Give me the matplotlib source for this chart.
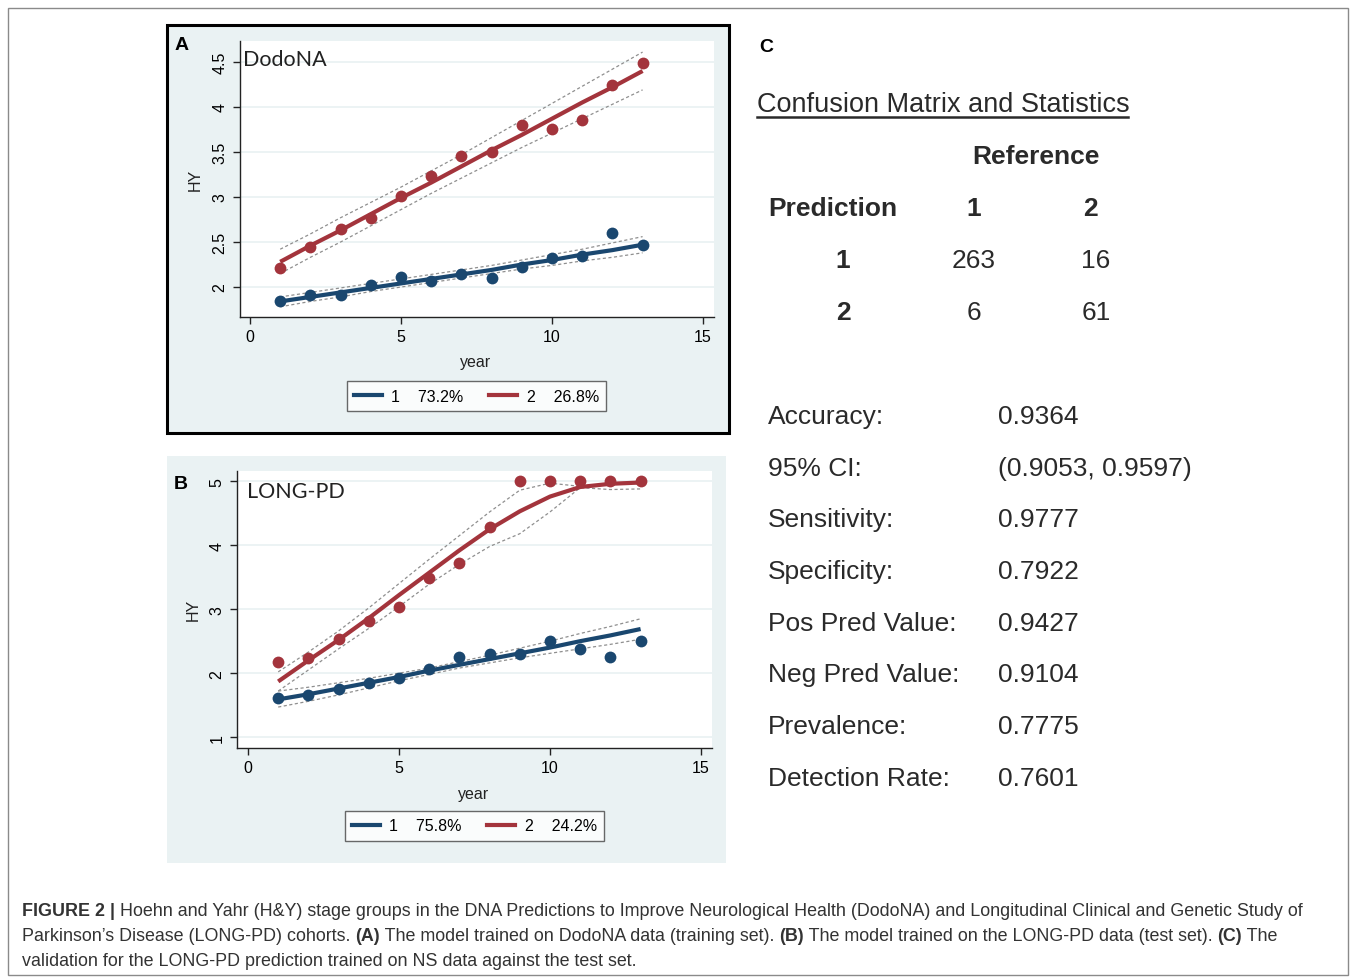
import matplotlib
matplotlib.use('Agg')
import matplotlib.pyplot as plt
from matplotlib.patches import Rectangle
from matplotlib.lines import Line2D
from matplotlib.ticker import FormatStrFormatter

W, H = 1357, 979
years = list(range(1, 14))

# ---------------- Panel A (DodoNA) ----------------
a_g1_obs = [1.85, 1.91, 1.91, 2.02, 2.11, 2.07, 2.15, 2.10, 2.22, 2.32, 2.35, 2.60, 2.47]
a_g1_fit = [1.84, 1.89, 1.94, 1.99, 2.04, 2.09, 2.14, 2.19, 2.25, 2.30, 2.36, 2.41, 2.47]
a_g1_hi = [1.89, 1.94, 1.99, 2.04, 2.09, 2.14, 2.19, 2.24, 2.30, 2.36, 2.42, 2.49, 2.56]
a_g1_lo = [1.78, 1.84, 1.89, 1.95, 2.00, 2.05, 2.10, 2.15, 2.20, 2.24, 2.29, 2.33, 2.38]
a_g2_obs = [2.21, 2.45, 2.64, 2.77, 3.01, 3.23, 3.46, 3.50, 3.80, 3.76, 3.86, 4.24, 4.49]
a_g2_fit = [2.28, 2.46, 2.63, 2.81, 2.99, 3.16, 3.34, 3.52, 3.69, 3.87, 4.05, 4.22, 4.40]
a_g2_hi = [2.42, 2.59, 2.77, 2.94, 3.11, 3.29, 3.47, 3.66, 3.85, 4.04, 4.23, 4.42, 4.61]
a_g2_lo = [2.15, 2.33, 2.50, 2.68, 2.86, 3.04, 3.21, 3.38, 3.55, 3.71, 3.87, 4.03, 4.19]
a_labels = ["1    73.2%", "2    26.8%"]
a_yticks = [2, 2.5, 3, 3.5, 4, 4.5]

# ---------------- Panel B (LONG-PD) ----------------
b_g1_obs = [1.61, 1.66, 1.75, 1.85, 1.92, 2.06, 2.26, 2.30, 2.30, 2.50, 2.38, 2.25, 2.50]
b_g1_fit = [1.59, 1.67, 1.76, 1.85, 1.94, 2.04, 2.13, 2.22, 2.31, 2.40, 2.50, 2.59, 2.69]
b_g1_hi = [1.72, 1.78, 1.85, 1.92, 2.00, 2.08, 2.18, 2.28, 2.39, 2.50, 2.62, 2.73, 2.85]
b_g1_lo = [1.47, 1.56, 1.66, 1.77, 1.88, 1.98, 2.08, 2.16, 2.24, 2.31, 2.38, 2.45, 2.53]
b_g2_obs = [2.18, 2.24, 2.53, 2.82, 3.03, 3.48, 3.72, 4.28, 5.00, 5.00, 5.00, 5.00, 5.00]
b_g2_fit = [1.87, 2.20, 2.52, 2.86, 3.22, 3.57, 3.92, 4.25, 4.53, 4.76, 4.91, 4.96, 4.98]
b_g2_hi = [2.02, 2.33, 2.66, 3.02, 3.40, 3.78, 4.15, 4.52, 4.86, 4.97, 4.92, 4.97, 4.99]
b_g2_lo = [1.72, 2.05, 2.38, 2.70, 3.04, 3.39, 3.70, 3.98, 4.18, 4.52, 4.90, 4.87, 4.88]
b_labels = ["1    75.8%", "2    24.2%"]
b_yticks = [1, 2, 3, 4, 5]
xticks = [0, 5, 10, 15]

# ---------------- Panel C ----------------
cm_title = "Confusion Matrix and Statistics"
cm_cols = ["1", "2"]
cm_rows = ["1", "2"]
cm_values = [["263", "16"], ["6", "61"]]
stat_names = ["Accuracy:", "95% CI:", "Sensitivity:", "Specificity:",
              "Pos Pred Value:", "Neg Pred Value:", "Prevalence:", "Detection Rate:"]
stat_values = ["0.9364", "(0.9053, 0.9597)", "0.9777", "0.7922",
               "0.9427", "0.9104", "0.7775", "0.7601"]

caption_lines = [
    [("FIGURE 2 | ", True),
     ("Hoehn and Yahr (H&Y) stage groups in the DNA Predictions to Improve Neurological Health (DodoNA) and Longitudinal Clinical and Genetic Study of", False)],
    [("Parkinson\u2019s Disease (LONG-PD) cohorts. ", False), ("(A)", True),
     (" The model trained on DodoNA data (training set). ", False), ("(B)", True),
     (" The model trained on the LONG-PD data (test set). ", False), ("(C)", True),
     (" The", False)],
    [("validation for the LONG-PD prediction trained on NS data against the test set.", False)],
]

BLUE = '#1a476f'
RED = '#a3343c'
CIC = '#8f8f8f'
BG = '#eaf2f3'
SANS = ['Liberation Sans', 'DejaVu Sans']

plt.rcParams['font.family'] = SANS

fig = plt.figure(figsize=(W / 100, H / 100), dpi=100)


def fx(x):
    return x / W


def fy(y):
    return 1 - y / H


def axes_px(l, t, r, b):
    return fig.add_axes([fx(l), fy(b), (r - l) / W, (b - t) / H])


bg = fig.add_axes([0, 0, 1, 1], zorder=-5)
bg.set_xlim(0, W)
bg.set_ylim(H, 0)
bg.axis('off')

# outer frame
bg.add_patch(Rectangle((8, 9), 1340, 967, fc='white', ec='#8a8a8a', lw=1.0))
# panel backgrounds
bg.add_patch(Rectangle((167, 26), 562, 408, fc=BG, ec='black', lw=2.2))
bg.add_patch(Rectangle((167, 457), 559, 407, fc=BG, ec='none'))


def panel(box, xlim, ylim, yticks, g1, g2, name, name_xy, letter_xy, letter,
          ylab_xy, xlab_xy, leg_center, labels):
    ax = axes_px(*box)
    ax.set_facecolor('white')
    for s in ['top', 'right']:
        ax.spines[s].set_visible(False)
    for s in ['left', 'bottom']:
        ax.spines[s].set_color('#222222')
        ax.spines[s].set_linewidth(1.0)
    ax.set_xlim(*xlim)
    ax.set_ylim(*ylim)
    ax.set_xticks(xticks)
    ax.set_yticks(yticks)
    ax.yaxis.set_major_formatter(FormatStrFormatter('%g'))
    ax.tick_params(axis='both', direction='out', length=5, width=1,
                   labelsize=11.5, color='#222222', pad=4)
    for lab in ax.get_yticklabels():
        lab.set_rotation(90)
        lab.set_va('center')
    ax.yaxis.grid(True, color=BG, lw=1.3)
    ax.set_axisbelow(True)
    handles = []
    for (obs, fit, hi, lo), c in ((g1, BLUE), (g2, RED)):
        ax.plot(years, hi, color=CIC, lw=0.9, ls=(0, (2.5, 2)), zorder=2)
        ax.plot(years, lo, color=CIC, lw=0.9, ls=(0, (2.5, 2)), zorder=2)
        ax.plot(years, obs, 'o', color=c, ms=8.5, mec='none', zorder=3)
        ax.plot(years, fit, color=c, lw=3.0, zorder=4, solid_capstyle='butt')
        handles.append(Line2D([], [], color=c, lw=3.0))
    fig.text(fx(name_xy[0]), fy(name_xy[1]), name, family=['Lato', 'DejaVu Sans'],
             fontsize=15.5, ha='left', va='center', color='#222222', zorder=10)
    fig.text(fx(letter_xy[0]), fy(letter_xy[1]), letter, fontsize=14, fontweight='bold',
             ha='center', va='center', color='black', zorder=10)
    fig.text(fx(ylab_xy[0]), fy(ylab_xy[1]), 'HY', fontsize=11.5, rotation=90,
             ha='center', va='center', color='#222222')
    fig.text(fx(xlab_xy[0]), fy(xlab_xy[1]), 'year', fontsize=11.5,
             ha='center', va='center', color='#222222')
    leg = fig.legend(handles, labels, ncol=2, loc='center',
                     bbox_to_anchor=(fx(leg_center[0]), fy(leg_center[1])),
                     frameon=True, fancybox=False, edgecolor='#444444',
                     fontsize=11.5, handlelength=1.75, handletextpad=0.6,
                     columnspacing=1.6, borderpad=0.45, borderaxespad=0)
    leg.get_frame().set_linewidth(1.0)
    return ax


panel((240, 42, 714, 318), (-10 / 30.2, 464 / 30.2), (1.667, 4.733), a_yticks,
      (a_g1_obs, a_g1_fit, a_g1_hi, a_g1_lo), (a_g2_obs, a_g2_fit, a_g2_hi, a_g2_lo),
      'DodoNA', (243, 60), (182, 45), 'A', (195, 180), (476, 363), (476.5, 397), a_labels)

panel((237, 472, 712, 749), (-11 / 30.2, 464 / 30.2), (0.83, 5.16), b_yticks,
      (b_g1_obs, b_g1_fit, b_g1_hi, b_g1_lo), (b_g2_obs, b_g2_fit, b_g2_hi, b_g2_lo),
      'LONG-PD', (247, 492), (181, 485), 'B', (193, 610), (474, 794), (474.5, 827), b_labels)

# ---------------- Panel C text ----------------
TXT = '#2a2a2a'
bg.text(766, 47, 'C', fontsize=14, fontweight='bold', ha='center', va='center', color='black')
bg.text(757, 105, cm_title, fontsize=19.5, ha='left', va='center', color=TXT)
bg.plot([757, 1128], [118, 118], color=TXT, lw=1.8)
bg.text(1036, 157, 'Reference', fontsize=19, fontweight='bold', ha='center', va='center', color=TXT)
bg.text(768, 209, 'Prediction', fontsize=19, fontweight='bold', ha='left', va='center', color=TXT)
col_x = [974, 1090]
row_y = [261, 313]
for j, c in enumerate(cm_cols):
    bg.text(col_x[j], 209, c, fontsize=19, fontweight='bold', ha='center', va='center', color=TXT)
for i, r in enumerate(cm_rows):
    bg.text(843, row_y[i], r, fontsize=19, fontweight='bold', ha='center', va='center', color=TXT)
    for j in range(2):
        bg.text([974, 1096][j], row_y[i], cm_values[i][j], fontsize=19,
                ha='center', va='center', color=TXT)
for k, (n, v) in enumerate(zip(stat_names, stat_values)):
    yy = 417 + k * 51.7
    bg.text(768, yy, n, fontsize=19, ha='left', va='center', color=TXT)
    bg.text(998, yy, v, fontsize=19, ha='left', va='center', color=TXT)

# ---------------- caption ----------------
cap_size = 12.9
for li, segs in enumerate(caption_lines):
    y = 912 + li * 25
    prev = None
    for s, b in segs:
        kw = dict(fontsize=cap_size, fontweight='bold' if b else 'normal', color='#333333')
        if prev is None:
            prev = bg.text(22, y, s, ha='left', va='center', **kw)
        else:
            prev = bg.annotate(s, xy=(1, 0), xycoords=prev, ha='left', va='bottom', **kw)

fig.savefig('out.png', dpi=100)
